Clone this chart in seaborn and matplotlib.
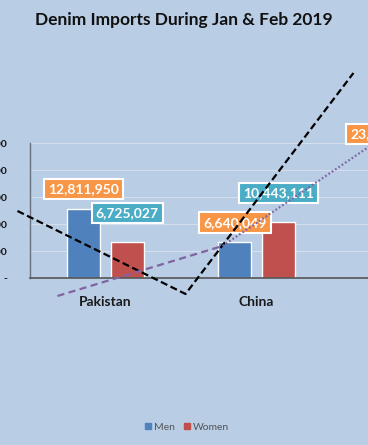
import numpy as np
import pandas as pd
import matplotlib
matplotlib.use("Agg")
import matplotlib.pyplot as plt
import seaborn as sns
from matplotlib.patches import Patch

# data
countries = ["Pakistan", "China", "Others"]
men = [12811950, 6640049, 23046512]
women = [6725027, 10443111, 9500000]
x_tick_labels = ["Pakistan", "China", ""]  # third name is cropped out of view
y_ticks = [0, 5000000, 10000000, 15000000, 20000000, 25000000]
y_tick_labels = ["-", "5,000,000", "10,000,000", "15,000,000", "20,000,000", "25,000,000"]

# overlay lines (x in category units, y in imports)
black_x = [-0.583, 0.530, 1.642]
black_y = [12410000, -2960000, 37960000]
purple_dash_x = [-0.318, 0.775]
purple_dash_y = [-3330000, 5930000]
purple_dot_x = [0.775, 1.742, 1.90]
purple_dot_y = [5930000, 24260000, 27300000]

BG = "#B9CDE5"
BLUE = "#4F81BD"
RED = "#C0504D"
ORANGE = "#F79646"
TEAL = "#4BACC6"
PURPLE = "#8064A2"

df = pd.DataFrame({
    "country": countries * 2,
    "gender": ["Men"] * len(countries) + ["Women"] * len(countries),
    "imports": men + women,
})

sns.set_theme(style="white")
plt.rcParams["font.family"] = ["Lato", "DejaVu Sans"]

fig = plt.figure(figsize=(3.68, 4.45), dpi=100, facecolor=BG)
ax = fig.add_axes([30 / 368, 167 / 445, 453 / 368, 135 / 445])
ax.set_facecolor(BG)

sns.barplot(data=df, x="country", y="imports", hue="gender",
            palette=[BLUE, RED], width=0.575, gap=0.235, saturation=1,
            legend=False, ax=ax, zorder=2)

ax.set_xlim(-0.5, 2.5)
ax.set_ylim(0, 25000000)
ax.set_yticks(y_ticks)
ax.set_yticklabels(y_tick_labels, fontsize=7.5, fontweight="bold", color="#111111")
ax.set_xticks(range(len(countries)))
ax.set_xticklabels(x_tick_labels, fontsize=10, fontweight="bold", color="#1a1a1a")
ax.tick_params(axis="y", length=0, pad=16.5)
ax.tick_params(axis="x", length=0, pad=13)
ax.set_xlabel("")
ax.set_ylabel("")
ax.grid(axis="y", color="#D5DFEC", lw=0.8, zorder=0)
ax.set_axisbelow(True)
for s in ["top", "right"]:
    ax.spines[s].set_visible(False)
ax.spines["left"].set_color("#6B6F80")
ax.spines["bottom"].set_color("#555555")
ax.spines["left"].set_linewidth(1)
ax.spines["bottom"].set_linewidth(1.2)

# data labels
label_colors = [ORANGE, TEAL]
label_lift = [19.5, 28.5]  # pixels above bar top
for cont, col, lift in zip(ax.containers, label_colors, label_lift):
    for bar in cont:
        h = bar.get_height()
        ax.annotate(f"{h:,.0f}", xy=(bar.get_x() + bar.get_width() / 2, h),
                    xytext=(0, lift), textcoords="offset pixels",
                    ha="center", va="center", fontsize=10, fontweight="bold",
                    color="white", annotation_clip=False, zorder=4,
                    bbox=dict(boxstyle="square,pad=0.3", fc=col, ec="white", lw=1.5))

# overlay lines
ax.plot(black_x, black_y, color="black", lw=1.6, ls=(0, (3.2, 1.6)),
        clip_on=False, zorder=6)
ax.plot(purple_dash_x, purple_dash_y, color=PURPLE, lw=1.6, ls=(0, (3.2, 2)),
        clip_on=False, zorder=6)
ax.plot(purple_dot_x, purple_dot_y, color=PURPLE, lw=1.6, ls=(0, (0.8, 1.0)),
        clip_on=False, zorder=6)

fig.text(0.5, 1 - 20 / 445, "Denim Imports During Jan & Feb 2019",
         ha="center", va="center", fontsize=12.5, fontweight="bold", color="#111111")

handles = [Patch(color=BLUE, label="Men"), Patch(color=RED, label="Women")]
fig.legend(handles=handles, loc="center", bbox_to_anchor=(187 / 368, 1 - 427 / 445),
           ncol=2, frameon=False, fontsize=7.5, handlelength=0.6, handleheight=0.6,
           handletextpad=0.3, columnspacing=0.8, labelcolor="#555555")

fig.savefig("out.png", dpi=100, facecolor=BG)
